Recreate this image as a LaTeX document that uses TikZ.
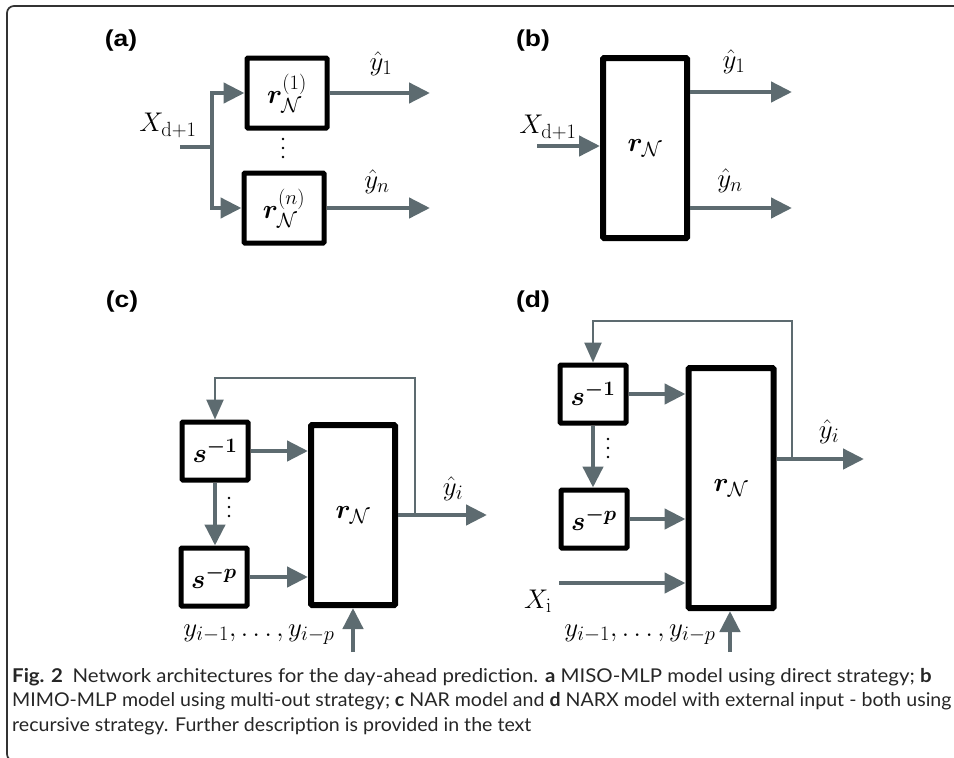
\RequirePackage{fix-cm}
\documentclass[tikz,border=0pt]{standalone}
\usepackage{amsmath}
\usepackage{bm}
\usepackage[no-math]{fontspec}
\newfontfamily\capfont[FakeStretch=1.075]{Lato}
\newfontfamily\capfontnarrow[FakeStretch=1.03]{Lato}
\newfontfamily\panelfont[FakeStretch=1.15]{Liberation Sans}
\usepackage{tikz}
\usetikzlibrary{positioning, arrows.meta, calc}

\renewcommand{\defaultscriptratio}{.76}

\definecolor{wiregray}{RGB}{93,107,112}
\definecolor{framegray}{RGB}{51,51,51}

\tikzset{
    vdotsmark/.pic={\foreach \k in {-9,0,9} \fill (0,\k) circle (1.4pt);}
}

\begin{document}
\begin{tikzpicture}[
        x=1pt, y=-1pt,
        mathtext/.style={font=\fontsize{27}{31}\selectfont},
        paneltag/.style={font=\panelfont\bfseries\fontsize{23}{27}\selectfont},
        block/.style={draw=black, line width=5pt, fill=white, inner sep=0pt, rounded corners=1pt, mathtext},
        bigblock/.style={block, line width=6pt, minimum width=84pt, minimum height=180pt},
        delay/.style={block, minimum width=66pt, minimum height=58pt},
        wire/.style={draw=wiregray, line width=4.5pt},
        arrow/.style={wire, -{Triangle[length=21pt, width=20pt]}},
        loopback/.style={draw=wiregray, line width=2.5pt, -{Triangle[length=20pt, width=17pt]}},
        caption/.style={font=\capfont\fontsize{19}{24.5}\selectfont, align=left, inner sep=0pt, text=black!85}
    ]
        \useasboundingbox (0,0) rectangle (954,758);

        % ===== 外框 =====
        \draw[framegray, line width=1.7pt, rounded corners=7pt] (954,6) -- (7,6) -- (7,761) -- (30,761);

        % ===== (a) =====
        \node[paneltag] (taga) at (121,41) {(a)};
        \node[block, minimum width=80pt, minimum height=70pt] (ra1) at (287,93) {$\bm{r}_{\mathcal{N}}^{(1)}$};
        \node[block, minimum width=80pt, minimum height=70pt] (ran) at (284,208) {$\bm{r}_{\mathcal{N}}^{(n)}$};
        \pic (dotsa) at (283,148) {vdotsmark};
        \node[mathtext] (xa) at (168,125) {$X_{\mathrm{d+1}}$};
        \node[mathtext] (ya1) at (381,64) {$\hat{y}_1$};
        \node[mathtext] (yan) at (377,182) {$\hat{y}_n$};
        \coordinate (ina) at (180,147);
        \coordinate (splita) at (212,147);
        \coordinate (outa1) at (430,93);
        \coordinate (outan) at (430,208);

        \draw[wire] (ina) -- (splita);
        \draw[arrow] (splita) |- (ra1.west);
        \draw[arrow] (splita) |- (ran.west);
        \draw[arrow] (ra1.east) -- (outa1);
        \draw[arrow] (ran.east) -- (outan);

        % ===== (b) =====
        \node[paneltag] (tagb) at (533,41) {(b)};
        \node[bigblock] (rb) at (645,148) {$\bm{r}_{\mathcal{N}}$};
        \node[mathtext] (xb) at (548,127) {$X_{\mathrm{d+1}}$};
        \node[mathtext] (yb1) at (734,62) {$\hat{y}_1$};
        \node[mathtext] (ybn) at (730,181) {$\hat{y}_n$};
        \coordinate (inb) at (537,146);
        \coordinate (outb1) at (792,92);
        \coordinate (outbn) at (792,208);

        \draw[arrow] (inb) -- (inb -| rb.west);
        \draw[arrow] (outb1 -| rb.east) -- (outb1);
        \draw[arrow] (outbn -| rb.east) -- (outbn);

        % ===== (c) =====
        \node[paneltag] (tagc) at (122,302) {(c)};
        \node[delay] (s1c) at (215,451) {$\bm{s^{-1}}$};
        \node[delay] (spc) at (214,577) {$\bm{s^{-p}}$};
        \node[bigblock] (rc) at (353,515) {$\bm{r}_{\mathcal{N}}$};
        \pic (dotsc) at (229,507) {vdotsmark};
        \node[mathtext] (yhatc) at (453,489) {$\hat{y}_i$};
        \node[mathtext] (yinc) at (259,635) {$y_{i-1},\ldots,y_{i-p}$};
        \coordinate (outc) at (487,515);
        \coordinate (fbc) at (415,515);
        \coordinate (fbctop) at (415,378);
        \coordinate (inc) at (353,652);

        \draw[arrow] (s1c) -- (s1c -| rc.west);
        \draw[arrow] (spc) -- (spc -| rc.west);
        \draw[arrow] (s1c.south) -- (s1c.south |- spc.north);
        \draw[arrow] (rc.east) -- (outc);
        \draw[loopback] (fbc) -- (fbctop) -| (s1c.north);
        \draw[arrow] (inc) -- (rc.south);

        % ===== (d) =====
        \node[paneltag] (tagd) at (533,302) {(d)};
        \node[delay] (s1d) at (593,394) {$\bm{s^{-1}}$};
        \node[delay] (spd) at (594,519) {$\bm{s^{-p}}$};
        \node[bigblock, minimum width=85pt, minimum height=240pt] (rd) at (731,488) {$\bm{r}_{\mathcal{N}}$};
        \pic (dotsd) at (608,448) {vdotsmark};
        \node[mathtext] (xd) at (538,601) {$X_{\mathrm{i}}$};
        \node[mathtext] (yhatd) at (829,432) {$\hat{y}_i$};
        \node[mathtext] (yind) at (640,635) {$y_{i-1},\ldots,y_{i-p}$};
        \coordinate (outd) at (864,459);
        \coordinate (fbd) at (792,459);
        \coordinate (fbdtop) at (792,321);
        \coordinate (xind) at (559,583);
        \coordinate (ind) at (730,652);

        \draw[arrow] (s1d) -- (s1d -| rd.west);
        \draw[arrow] (spd) -- (spd -| rd.west);
        \draw[arrow] (s1d.south) -- (s1d.south |- spd.north);
        \draw[arrow] (outd -| rd.east) -- (outd);
        \draw[loopback] (fbd) -- (fbdtop) -| (s1d.north);
        \draw[arrow] (xind) -- (xind -| rd.west);
        \draw[arrow] (ind) -- (ind |- rd.south);

        % ===== 图注 =====
        \node[caption, anchor=north west] (cap) at (12,668) {\textbf{Fig. 2}\enspace Network architectures for the day-ahead prediction. \textbf{a} MISO-MLP model using direct strategy; \textbf{b}\\
            {\capfontnarrow MIMO-MLP model using multi-out strategy; \textbf{c} NAR model and \textbf{d} NARX model with external input - both using}\\
            {\capfontnarrow recursive strategy. Further description is provided in the text}};

    \end{tikzpicture}
\end{document}
